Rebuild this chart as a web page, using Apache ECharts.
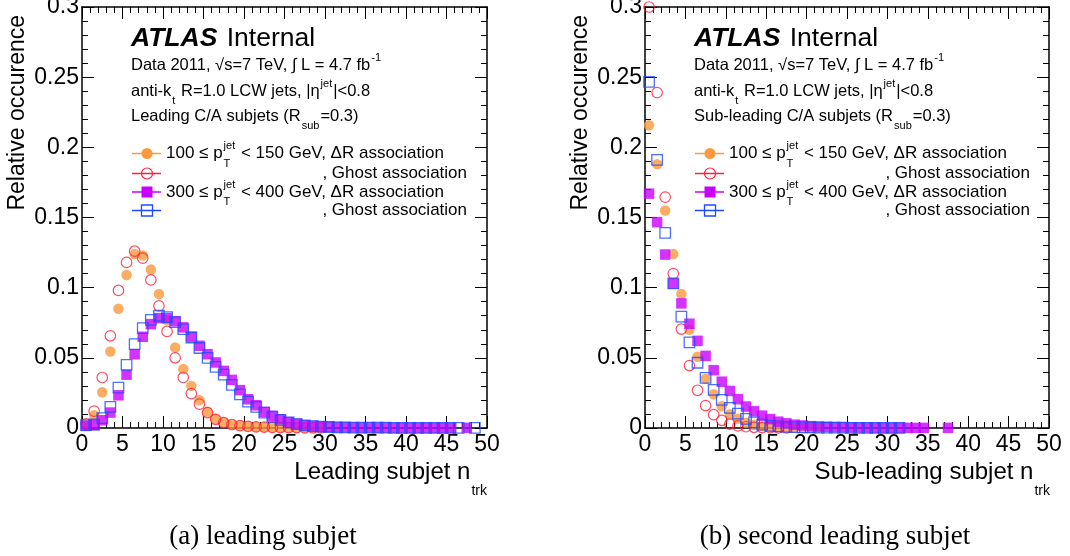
<!DOCTYPE html>
<html>
<head>
<meta charset="utf-8">
<script src="https://cdn.jsdelivr.net/npm/echarts@6/dist/echarts.min.js"></script>
<style>
html, body { margin: 0; padding: 0; background: #fff; }
#chart { width: 1070px; height: 556px; }
</style>
</head>
<body>
<div id="chart"></div>
<script>
// bin centres of the n_trk histograms
const nTrk = [0.5, 1.5, 2.5, 3.5, 4.5, 5.5, 6.5, 7.5, 8.5, 9.5,
  10.5, 11.5, 12.5, 13.5, 14.5, 15.5, 16.5, 17.5, 18.5, 19.5,
  20.5, 21.5, 22.5, 23.5, 24.5, 25.5, 26.5, 27.5, 28.5, 29.5,
  30.5, 31.5, 32.5, 33.5, 34.5, 35.5, 36.5, 37.5, 38.5, 39.5,
  40.5, 41.5, 42.5, 43.5, 44.5, 45.5, 46.5, 47.5, 48.5, 49.5];

// (a) leading subjet
const leadDR100 = [0.002, 0.009, 0.0255, 0.0545, 0.085, 0.109, 0.124, 0.123, 0.113, 0.0955,
  0.077, 0.0574, 0.042, 0.030, 0.0198, 0.0115, 0.0065, 0.004, 0.0026, 0.0018,
  0.0012, 0.0009, 0.0007, 0.0005, 0.0004, 0.0003, 0.0002, 0.0002, 0.0001, 0.0001];
const leadGhost100 = [0.003, 0.012, 0.036, 0.0657, 0.098, 0.118, 0.126, 0.121, 0.1055, 0.087,
  0.0688, 0.050, 0.036, 0.0245, 0.017, 0.011, 0.0062, 0.0038, 0.0025, 0.0017,
  0.0011, 0.0008, 0.0006, 0.0004, 0.0003, 0.0002, 0.0002, 0.0001, 0.0001, 0.0001];
const leadDR300 = [0.0015, 0.002, 0.0055, 0.011, 0.0233, 0.038, 0.0526, 0.065, 0.074, 0.0783,
  0.0783, 0.076, 0.0717, 0.065, 0.0586, 0.0526, 0.0467, 0.0407, 0.0343, 0.027,
  0.0205, 0.0162, 0.0114, 0.0086, 0.0062, 0.0042, 0.003, 0.002, 0.0015, 0.0011,
  0.0008, 0.0006, 0.0005, 0.0004, 0.0003, 0.0003, 0.0002, 0.0002, 0.0002, 0.0001,
  0.0001, 0.0001, 0.0001, 0.0001, 0.0001, 0.0001, null, 0.0001];
const leadGhost300 = [0.002, 0.0025, 0.007, 0.015, 0.0288, 0.045, 0.0598, 0.0712, 0.077, 0.080,
  0.079, 0.0755, 0.0705, 0.0645, 0.057, 0.050, 0.0436, 0.038, 0.0307, 0.024,
  0.0188, 0.015, 0.011, 0.008, 0.0058, 0.004, 0.0028, 0.0018, 0.0013, 0.001,
  0.0007, 0.0005, 0.0004, 0.0003, 0.0003, 0.0002, 0.0002, 0.0002, 0.0001, 0.0001,
  0.0001, 0.0001, 0.0001, 0.0001, 0.0001, 0.0001, 0.0001, null, 0.0001];

// (b) second leading subjet
const subDR100 = [0.2157, 0.188, 0.155, 0.124, 0.0955, 0.070, 0.0508, 0.035, 0.024, 0.0155,
  0.0098, 0.0066, 0.0037, 0.0022, 0.0013, 0.0009, 0.0006, 0.0004, 0.0003, 0.0002,
  0.0001, 0.0001];
const subGhost100 = [0.300, 0.239, 0.1645, 0.110, 0.0705, 0.0445, 0.0269, 0.016, 0.0095, 0.0055,
  0.0027, 0.0015, 0.0009, 0.0005, 0.0003, 0.0002, 0.0001, 0.0001];
const subDR300 = [0.167, 0.1467, 0.1236, 0.103, 0.0888, 0.0743, 0.0621, 0.0514, 0.0412, 0.033,
  0.0264, 0.0205, 0.0153, 0.0119, 0.0088, 0.0063, 0.0045, 0.0033, 0.0024, 0.0018,
  0.0013, 0.001, 0.0008, 0.0006, 0.0005, 0.0004, 0.0003, 0.0003, 0.0002, 0.0002,
  0.0001, 0.0001, 0.0001, 0.0001, 0.0001, null, null, 0.0001];
const subGhost300 = [0.2467, 0.191, 0.139, 0.103, 0.0793, 0.061, 0.0465, 0.0357, 0.0272, 0.020,
  0.0143, 0.0103, 0.0065, 0.004, 0.0024, 0.0015, 0.0011, 0.0008, 0.0006, 0.0005,
  0.0004, 0.0003, 0.0003, 0.0002, 0.0002, 0.0001, 0.0001, 0.0001, 0.0001, 0.0001,
  0.0001, 0.0001];

const yTicks = [0, 0.05, 0.1, 0.15, 0.2, 0.25, 0.3];

const FAM = '"Liberation Sans", Arial, sans-serif';
const ORANGE = '#fa9a3c', RED = '#ff1f3d', PURPLE = '#c800ff', BLUE = '#1f4bff';

const ctx = document.createElement('canvas').getContext('2d');
function measure(str, font) {
  ctx.font = font;
  return ctx.measureText(str).width;
}

function textEl(x, y, str, font, align) {
  return {
    type: 'text', x: x, y: y, silent: true,
    style: {
      text: str, font: font, fill: '#000',
      align: align || 'left', verticalAlign: 'middle',
      textAlign: align || 'left', textVerticalAlign: 'middle'
    }
  };
}

// a line of text with superscripts / subscripts, laid out left to right
function richLine(x, y, pieces, size) {
  const els = [];
  const main = size + 'px ' + FAM;
  const small = Math.round(size * 0.64) + 'px ' + FAM;
  pieces.forEach(p => {
    if (p.sup !== undefined || p.sub !== undefined) {
      let w = 0;
      if (p.sup) {
        els.push(textEl(x + 1, y - size * 0.42, p.sup, small));
        w = Math.max(w, measure(p.sup, small));
      }
      if (p.sub) {
        els.push(textEl(x + 1, y + size * 0.6, p.sub, small));
        w = Math.max(w, measure(p.sub, small));
      }
      x += w + 2;
    } else {
      const f = p.font || main;
      els.push(textEl(x, y, p.t, f));
      x += measure(p.t, f);
    }
  });
  return els;
}

function legendMark(x, y, kind, color) {
  const els = [{ type: 'line', silent: true, shape: { x1: x - 15, y1: y, x2: x + 14, y2: y }, style: { stroke: color, lineWidth: 1.5 } }];
  if (kind === 'dot') els.push({ type: 'circle', silent: true, shape: { cx: x, cy: y, r: 5.5 }, style: { fill: color } });
  if (kind === 'ring') els.push({ type: 'circle', silent: true, shape: { cx: x, cy: y, r: 5.5 }, style: { fill: 'none', stroke: color, lineWidth: 1.2 } });
  if (kind === 'box') els.push({ type: 'rect', silent: true, shape: { x: x - 5.5, y: y - 5.5, width: 11, height: 11 }, style: { fill: color } });
  if (kind === 'frame') els.push({ type: 'rect', silent: true, shape: { x: x - 5.5, y: y - 5.5, width: 11, height: 11 }, style: { fill: 'none', stroke: color, lineWidth: 1.3 } });
  return els;
}

function panelGraphics(dx, subjetText, xTitle, caption, capX) {
  let els = [];
  const atlasFont = 'italic bold 26.5px ' + FAM;
  els.push(textEl(131 + dx, 39, 'ATLAS', atlasFont));
  els.push(textEl(131 + dx + measure('ATLAS ', atlasFont) + 2, 39, 'Internal', '26.5px ' + FAM));
  els = els.concat(richLine(131 + dx, 65, [{ t: 'Data 2011, √s=7 TeV, ∫ L = 4.7 fb' }, { sup: '-1' }], 16.5));
  els = els.concat(richLine(131 + dx, 91, [{ t: 'anti-k' }, { sub: 't' }, { t: ' R=1.0 LCW jets, |η' }, { sup: 'jet' }, { t: '|<0.8' }], 16.5));
  els = els.concat(richLine(131 + dx, 116, [{ t: subjetText + ' (R' }, { sub: 'sub' }, { t: '=0.3)' }], 16.5));

  const rows = [153.5, 173.5, 192, 210.5];
  const mx = 147 + dx, tx = 166 + dx, rx = 467 + dx;
  els = els.concat(legendMark(mx, rows[0], 'dot', ORANGE));
  els = els.concat(legendMark(mx, rows[1], 'ring', RED));
  els = els.concat(legendMark(mx, rows[2], 'box', PURPLE));
  els = els.concat(legendMark(mx, rows[3], 'frame', BLUE));
  els = els.concat(richLine(tx, rows[0], [{ t: '100 ≤ p' }, { sup: 'jet', sub: 'T' }, { t: ' < 150 GeV, ΔR association' }], 17));
  els.push(textEl(rx, rows[1], ', Ghost association', '17px ' + FAM, 'right'));
  els = els.concat(richLine(tx, rows[2], [{ t: '300 ≤ p' }, { sup: 'jet', sub: 'T' }, { t: ' < 400 GeV, ΔR association' }], 17));
  els.push(textEl(rx, rows[3], ', Ghost association', '17px ' + FAM, 'right'));

  // axis titles
  const subFont = '14px ' + FAM, titleFont = '24px ' + FAM;
  els.push(textEl(487 + dx, 491, 'trk', subFont, 'right'));
  els.push(textEl(487 + dx - measure('trk', subFont) - 1, 472, xTitle, titleFont, 'right'));
  const yt = textEl(17.5 + dx, 15, 'Relative occurence', '23px ' + FAM, 'right');
  yt.rotation = Math.PI / 2;
  els.push(yt);

  els.push(textEl(capX, 537, caption, '27px "Liberation Serif", "Times New Roman", serif', 'center'));
  return els;
}

function xAxisOf(grid, top) {
  return {
    type: 'value', gridIndex: grid, position: top ? 'top' : 'bottom',
    min: 0, max: 50, interval: 5,
    axisLine: { show: true, onZero: false, lineStyle: { color: '#000', width: 1.5 } },
    axisTick: { show: true, inside: true, length: 12, lineStyle: { color: '#000', width: 1 } },
    minorTick: { show: true, splitNumber: 5, length: 6, lineStyle: { color: '#000', width: 1 } },
    axisLabel: { show: !top, fontSize: 23, fontFamily: FAM, color: '#000', margin: 5 },
    splitLine: { show: false }, minorSplitLine: { show: false }
  };
}

function yAxisOf(grid, right) {
  return {
    type: 'value', gridIndex: grid, position: right ? 'right' : 'left',
    min: 0, max: 0.3, interval: 0.05,
    axisLine: { show: true, onZero: false, lineStyle: { color: '#000', width: 1.5 } },
    axisTick: { show: true, inside: true, length: 12, lineStyle: { color: '#000', width: 1 } },
    minorTick: { show: true, splitNumber: 5, length: 6, lineStyle: { color: '#000', width: 1 } },
    axisLabel: {
      show: !right, fontSize: 23, fontFamily: FAM, color: '#000', margin: 3,
      formatter: v => String(yTicks.find(t => Math.abs(t - v) < 1e-9) ?? v)
    },
    splitLine: { show: false }, minorSplitLine: { show: false }
  };
}

function points(values) {
  return values.map((v, i) => [nTrk[i], v]).filter(d => d[1] !== null);
}

function sc(name, values, axis, kind) {
  const styles = {
    dot: { symbol: 'circle', itemStyle: { color: ORANGE } },
    ring: { symbol: 'circle', itemStyle: { color: 'rgba(255,255,255,0)', borderColor: RED, borderWidth: 1.2 } },
    box: { symbol: 'rect', itemStyle: { color: PURPLE } },
    frame: { symbol: 'rect', itemStyle: { color: 'rgba(255,255,255,0)', borderColor: BLUE, borderWidth: 1.3 } }
  };
  return Object.assign({
    name: name, type: 'scatter', xAxisIndex: axis, yAxisIndex: axis,
    symbolSize: 10.5, clip: false, silent: true,
    data: points(values)
  }, styles[kind]);
}

let myChart = echarts.init(document.getElementById('chart'), null, { renderer: 'canvas' });
myChart.setOption({
  animation: false,
  backgroundColor: '#fff',
  grid: [
    { left: 82, top: 7, width: 405, height: 421, outerBoundsMode: 'none' },
    { left: 645, top: 7, width: 404, height: 421, outerBoundsMode: 'none' }
  ],
  xAxis: [xAxisOf(0, false), xAxisOf(0, true), xAxisOf(1, false), xAxisOf(1, true)],
  yAxis: [yAxisOf(0, false), yAxisOf(0, true), yAxisOf(1, false), yAxisOf(1, true)],
  series: [
    sc('100-150 ΔR', leadDR100, 0, 'dot'),
    sc('100-150 Ghost', leadGhost100, 0, 'ring'),
    sc('300-400 ΔR', leadDR300, 0, 'box'),
    sc('300-400 Ghost', leadGhost300, 0, 'frame'),
    sc('100-150 ΔR', subDR100, 2, 'dot'),
    sc('100-150 Ghost', subGhost100, 2, 'ring'),
    sc('300-400 ΔR', subDR300, 2, 'box'),
    sc('300-400 Ghost', subGhost300, 2, 'frame')
  ],
  graphic: panelGraphics(0, 'Leading C/A subjets', 'Leading subjet n', '(a) leading subjet', 263)
    .concat(panelGraphics(563, 'Sub-leading C/A subjets', 'Sub-leading subjet n', '(b) second leading subjet', 835))
});
</script>
</body>
</html>
